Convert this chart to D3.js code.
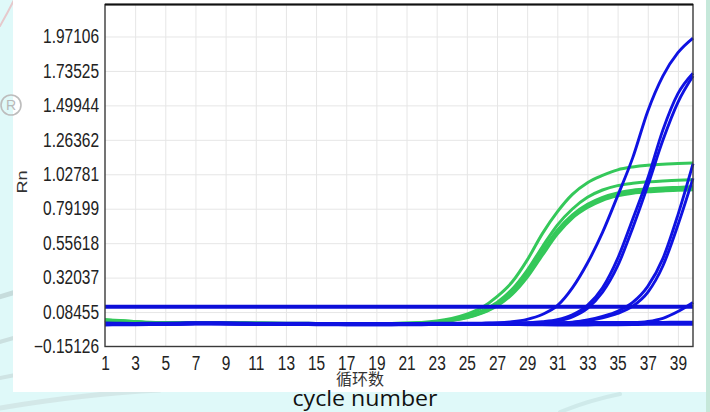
<!DOCTYPE html>
<html>
<head>
<meta charset="utf-8">
<script src="https://cdn.jsdelivr.net/npm/d3@7"></script>
<style>
  body { margin: 0; background: #e2fafa; }
  svg { display: block; }
</style>
</head>
<body>
<script>
// cycles and axis ticks
var cycles = [1,2,3,4,5,6,7,8,9,10,11,12,13,14,15,16,17,18,19,20,
              21,22,23,24,25,26,27,28,29,30,31,32,33,34,35,36,37,38,39,40];
var xTicks = [1,3,5,7,9,11,13,15,17,19,21,23,25,27,29,31,33,35,37,39];
var yTicks = [-0.15126, 0.08455, 0.32037, 0.55618, 0.79199, 1.02781, 1.26362, 1.49944, 1.73525, 1.97106];
var threshold = 0.121;

// green curves (Rn per cycle)
var green1 = [0.032,0.026,0.019,0.014,0.012,0.011,0.013,0.013,0.011,0.010,
              0.009,0.009,0.008,0.008,0.007,0.007,0.006,0.006,0.006,0.007,
              0.009,0.013,0.023,0.041,0.070,0.115,0.190,0.290,0.440,0.620,
              0.770,0.890,0.970,1.020,1.058,1.078,1.090,1.097,1.101,1.105];
var green2 = [0.030,0.024,0.018,0.013,0.011,0.010,0.012,0.012,0.010,0.009,
              0.008,0.008,0.007,0.007,0.006,0.006,0.005,0.005,0.005,0.006,
              0.008,0.011,0.019,0.033,0.055,0.092,0.150,0.240,0.370,0.530,
              0.680,0.790,0.870,0.920,0.950,0.966,0.976,0.982,0.987,0.990];
var green3 = [0.029,0.023,0.017,0.013,0.011,0.010,0.011,0.011,0.010,0.009,
              0.008,0.007,0.007,0.006,0.006,0.005,0.005,0.005,0.005,0.006,
              0.007,0.010,0.017,0.030,0.050,0.085,0.138,0.222,0.345,0.500,
              0.645,0.750,0.822,0.870,0.900,0.918,0.928,0.934,0.938,0.942];
var green4 = [0.028,0.022,0.016,0.012,0.010,0.009,0.011,0.011,0.009,0.008,
              0.007,0.007,0.006,0.006,0.005,0.005,0.004,0.004,0.004,0.005,
              0.006,0.009,0.015,0.027,0.045,0.077,0.126,0.205,0.322,0.472,
              0.618,0.728,0.800,0.850,0.880,0.898,0.908,0.914,0.918,0.921];
var green5 = [0.029,0.023,0.017,0.012,0.010,0.010,0.011,0.011,0.010,0.009,
              0.008,0.007,0.006,0.006,0.006,0.005,0.005,0.004,0.005,0.006,
              0.007,0.010,0.016,0.028,0.048,0.081,0.132,0.214,0.334,0.486,
              0.632,0.740,0.812,0.860,0.890,0.908,0.918,0.924,0.928,0.931];

// blue curves
var blue1 = [0.002,0.001,0.001,0.002,0.003,0.004,0.006,0.006,0.005,0.004,
             0.003,0.003,0.002,0.002,0.001,0.001,0.000,0.000,0.000,0.000,
             0.001,0.002,0.003,0.004,0.005,0.007,0.010,0.018,0.035,0.068,
             0.128,0.250,0.420,0.630,0.880,1.140,1.460,1.700,1.860,1.960];
var blue2 = [0.003,0.002,0.002,0.003,0.004,0.005,0.007,0.007,0.006,0.005,
             0.004,0.004,0.003,0.003,0.002,0.002,0.001,0.001,0.001,0.001,
             0.002,0.002,0.003,0.003,0.004,0.004,0.005,0.006,0.010,0.018,
             0.032,0.065,0.130,0.250,0.450,0.720,1.000,1.330,1.580,1.720];
var blue3 = [0.001,0.000,0.000,0.001,0.002,0.003,0.005,0.005,0.004,0.003,
             0.002,0.002,0.001,0.001,0.000,0.000,-0.001,-0.001,-0.001,-0.001,
             0.000,0.000,0.001,0.001,0.002,0.002,0.003,0.005,0.008,0.014,
             0.024,0.052,0.110,0.220,0.400,0.660,0.950,1.260,1.520,1.700];
var blue4 = [0.004,0.003,0.003,0.004,0.005,0.006,0.008,0.008,0.007,0.006,
             0.005,0.005,0.004,0.004,0.003,0.003,0.002,0.002,0.002,0.002,
             0.003,0.003,0.003,0.004,0.004,0.004,0.004,0.004,0.004,0.005,
             0.008,0.015,0.030,0.055,0.090,0.150,0.260,0.450,0.750,1.100];
var blue5 = [0.000,-0.001,-0.001,0.000,0.001,0.002,0.004,0.004,0.003,0.002,
             0.001,0.001,0.000,0.000,-0.001,-0.001,-0.002,-0.002,-0.002,-0.002,
             -0.001,-0.001,0.000,0.000,0.001,0.001,0.001,0.001,0.002,0.004,
             0.008,0.014,0.025,0.045,0.075,0.125,0.220,0.400,0.680,1.000];
var blue6 = [0.005,0.004,0.004,0.005,0.006,0.007,0.009,0.009,0.008,0.007,
             0.006,0.006,0.005,0.005,0.004,0.004,0.003,0.003,0.003,0.003,
             0.004,0.004,0.004,0.005,0.005,0.005,0.005,0.005,0.005,0.005,
             0.004,0.003,0.003,0.004,0.006,0.010,0.020,0.042,0.088,0.150];
var flat1 = [0.004,0.003,0.003,0.004,0.005,0.006,0.008,0.008,0.007,0.006,
             0.005,0.005,0.004,0.004,0.003,0.003,0.002,0.002,0.002,0.002,
             0.003,0.003,0.004,0.004,0.005,0.005,0.005,0.005,0.006,0.006,
             0.006,0.006,0.006,0.006,0.007,0.007,0.007,0.007,0.007,0.008];
var flat2 = [-0.004,-0.003,-0.002,-0.001,0.000,0.001,0.003,0.003,0.002,0.001,
             0.000,0.000,-0.001,-0.001,-0.002,-0.002,-0.003,-0.003,-0.003,-0.003,
             -0.002,-0.002,-0.001,-0.001,0.000,0.000,0.000,-0.001,-0.002,-0.003,
             -0.004,-0.005,-0.004,-0.003,-0.002,-0.001,0.000,0.000,0.000,0.000];
var flat3 = [0.010,0.008,0.007,0.008,0.009,0.010,0.012,0.012,0.011,0.010,
             0.009,0.009,0.008,0.008,0.007,0.007,0.006,0.006,0.006,0.006,
             0.007,0.007,0.008,0.008,0.009,0.009,0.010,0.010,0.011,0.011,
             0.012,0.012,0.013,0.013,0.013,0.014,0.014,0.014,0.015,0.015];

var greens = [green1, green2, green3, green4, green5];
var blues = [flat1, flat2, flat3, blue6, blue5, blue4, blue3, blue2, blue1];

var W = 710, H = 412;
var svg = d3.select("body").append("svg").attr("width", W).attr("height", H);

// background decoration
svg.append("rect").attr("width", W).attr("height", H).attr("fill", "#dff9f9");
var deco = svg.append("g").attr("fill", "none").attr("stroke-linecap", "round");
deco.append("path").attr("d", "M-10,300 C20,290 40,285 60,282").attr("stroke", "#c6dcdc").attr("stroke-width", 5);
deco.append("path").attr("d", "M-10,345 C20,335 45,330 70,326").attr("stroke", "#cbe0e0").attr("stroke-width", 4);
deco.append("path").attr("d", "M-10,380 C30,372 60,366 90,362").attr("stroke", "#cfe4e4").attr("stroke-width", 4);
deco.append("path").attr("d", "M0,408 C60,398 120,392 160,390").attr("stroke", "#d3e8e8").attr("stroke-width", 5);
deco.append("path").attr("d", "M560,412 C580,404 600,398 620,394").attr("stroke", "#cfeaea").attr("stroke-width", 4);
deco.append("rect").attr("x", 706).attr("y", 0).attr("width", 4).attr("height", H).attr("fill", "#c6e8da").attr("stroke", "none");
deco.append("path").attr("d", "M0,26 Q8,12 14,0").attr("stroke", "#e6c9cc").attr("stroke-width", 2);

// white panel
svg.append("rect").attr("x", 13).attr("y", 0).attr("width", 693).attr("height", 392).attr("fill", "#ffffff");

// registered mark
svg.append("circle").attr("cx", 11).attr("cy", 105).attr("r", 10)
  .attr("fill", "none").attr("stroke", "#bdbdbd").attr("stroke-width", 1.6);
svg.append("text").attr("x", 11).attr("y", 105).attr("dy", "0.36em")
  .attr("text-anchor", "middle").attr("fill", "#b8b8b8")
  .style("font", "14px 'Liberation Sans', Arial, sans-serif").text("R");

var mLeft = 105, mRight = 693, mTop = 4.5, mBottom = 346.5;
var x = d3.scaleLinear().domain([1, 40]).range([mLeft, mRight]);
var y = d3.scaleLinear().domain([-0.15126, 2.19]).range([mBottom, mTop]);

// grid
svg.append("g").attr("transform", "translate(0," + mBottom + ")")
  .call(d3.axisBottom(x).tickValues(xTicks.slice(1)).tickSize(-(mBottom - mTop)).tickFormat(""))
  .call(function (g) { g.select(".domain").remove(); })
  .selectAll("line").attr("stroke", "#e6e6e6");
svg.append("g").attr("transform", "translate(" + mLeft + ",0)")
  .call(d3.axisLeft(y).tickValues(yTicks.slice(1)).tickSize(-(mRight - mLeft)).tickFormat(""))
  .call(function (g) { g.select(".domain").remove(); })
  .selectAll("line").attr("stroke", "#e6e6e6");

// curves
var line = d3.line()
  .x(function (d, i) { return x(cycles[i]); })
  .y(function (d) { return y(d); })
  .curve(d3.curveMonotoneX);

var plot = svg.append("g");
plot.selectAll(".g").data(greens).enter().append("path")
  .attr("d", line).attr("fill", "none")
  .attr("stroke", "#34c85a").attr("stroke-width", 3);
plot.selectAll(".b").data(blues).enter().append("path")
  .attr("d", line).attr("fill", "none")
  .attr("stroke", "#0f12e2").attr("stroke-width", 2.9);
plot.append("line")
  .attr("x1", x(1)).attr("x2", x(40))
  .attr("y1", y(threshold)).attr("y2", y(threshold))
  .attr("stroke", "#0c0ed8").attr("stroke-width", 3.8);

// frame
svg.append("rect").attr("x", mLeft).attr("y", mTop).attr("width", mRight - mLeft).attr("height", mBottom - mTop)
  .attr("fill", "none").attr("stroke", "#3a3a3a").attr("stroke-width", 1.4);
svg.append("line").attr("x1", mLeft).attr("x2", mRight).attr("y1", mTop).attr("y2", mTop)
  .attr("stroke", "#111").attr("stroke-width", 2);

// axes labels
var tickFont = "15.5px 'Liberation Sans', Arial, sans-serif";
svg.append("g").attr("transform", "translate(" + mLeft + ",0)")
  .call(d3.axisLeft(y).tickValues(yTicks).tickSize(0).tickPadding(6).tickFormat(d3.format(".5f")))
  .call(function (g) { g.select(".domain").remove(); })
  .selectAll("text").attr("fill", "#222").style("font", tickFont)
  .attr("transform", "scale(1,1.25)");
svg.append("g").attr("transform", "translate(0," + mBottom + ")")
  .call(d3.axisBottom(x).tickValues(xTicks).tickSize(0).tickPadding(8))
  .call(function (g) { g.select(".domain").remove(); })
  .selectAll("text").attr("fill", "#222").style("font", tickFont)
  .attr("transform", "scale(1,1.25)");

svg.append("text").attr("transform", "translate(27,182) rotate(-90) scale(1.3,1)")
  .attr("text-anchor", "middle").attr("fill", "#333")
  .style("font", "14px 'Liberation Sans', Arial, sans-serif").text("Rn");

svg.append("text").attr("x", 360).attr("y", 385).attr("text-anchor", "middle").attr("fill", "#333")
  .style("font", "16px 'Noto Sans CJK SC', sans-serif").text("循环数");

svg.append("text").attr("x", 365).attr("y", 406).attr("text-anchor", "middle").attr("fill", "#111")
  .attr("textLength", 145).attr("lengthAdjust", "spacingAndGlyphs")
  .style("font", "22px 'Open Sans', sans-serif").text("cycle number");
</script>
</body>
</html>
